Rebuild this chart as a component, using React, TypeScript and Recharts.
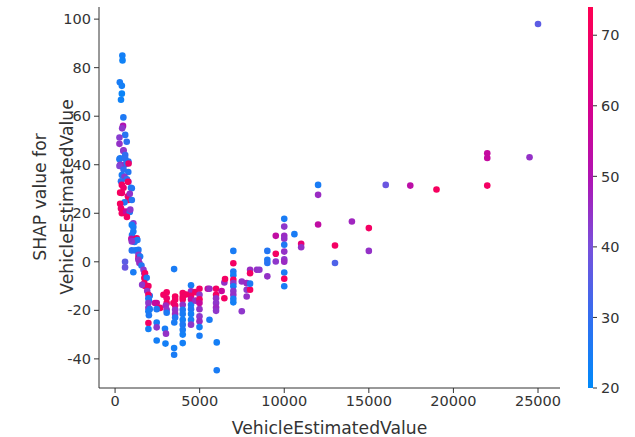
import React from "react";
import { ScatterChart, Scatter, XAxis, YAxis, Label } from "recharts";

// [VehicleEstimatedValue, SHAP value, Age]
type Pt = [number, number, number];

const steepColumn: Pt[] = [
  [430, 85, 24], [440, 83, 23], [280, 74, 25], [400, 72.5, 24], [400, 69.3, 22],
  [350, 66.8, 23], [490, 59.5, 26], [470, 56, 50], [420, 55, 44], [600, 52.3, 28],
  [260, 51.2, 43], [690, 49.5, 29], [260, 48.6, 45], [500, 46, 46], [490, 45.7, 44],
  [600, 44, 30], [260, 42.3, 25], [300, 42.7, 26], [600, 42.5, 29], [790, 41.3, 27],
  [300, 40, 44], [560, 40, 46], [690, 40.5, 28], [800, 40.5, 68], [260, 39.5, 42],
  [500, 38, 30], [780, 37, 27], [400, 35.8, 25], [560, 35, 44], [700, 34, 28],
  [790, 33, 46], [350, 33.2, 29], [760, 33, 70], [400, 31.7, 70], [990, 30.3, 26],
  [940, 30.5, 27], [500, 30.5, 68], [300, 28.5, 72], [400, 28.4, 69], [760, 27, 66],
  [870, 28, 45], [790, 25.5, 70], [990, 25.5, 27], [560, 24.5, 26], [300, 23.9, 71],
  [350, 22, 68], [490, 20.7, 72], [400, 20, 70], [560, 20.3, 68], [660, 20.7, 56],
  [870, 20.5, 27], [900, 21.5, 44], [700, 18.5, 70], [1080, 15.9, 44], [1080, 14.3, 26],
  [990, 15.2, 24], [1080, 12.5, 25], [1000, 11, 26], [960, 9.5, 54], [1280, 9.7, 70],
  [1080, 8.5, 44], [1150, 8.2, 27], [1320, 9, 26], [990, 8.4, 45], [1380, 4.9, 27],
  [1200, 4.7, 25], [990, 4.7, 27], [1380, 2.9, 44], [1380, 1.5, 68], [1480, 2.2, 26],
  [1380, 0.8, 44], [1440, -0.5, 46], [590, 0, 36], [590, -2.3, 38], [1080, -4.3, 25],
  [1560, -1.5, 27], [1680, -3.3, 44], [1730, -4.7, 45], [1770, -4.7, 70], [1730, -6.7, 70],
  [1870, -6.6, 26], [1730, -8.8, 70], [1770, -10, 70], [1600, -9.5, 44],
];

const troughCluster: Pt[] = [
  [1970, -10, 70], [1900, -12, 44], [2050, -14, 27], [1970, -13.6, 70], [1970, -15, 26],
  [2000, -16, 25], [1970, -17, 44], [1970, -19, 45], [2050, -19.5, 26], [1970, -20.4, 25],
  [2000, -22, 26], [1970, -25.2, 70], [1970, -27.7, 24], [2360, -17, 55], [2460, -17, 56],
  [2660, -19, 70], [2860, -13.6, 70], [2460, -19.5, 26], [2460, -25, 25], [2460, -27, 44],
  [2460, -32.4, 24], [2950, -27.6, 25], [3010, -29.6, 45], [2980, -33.7, 24], [3050, -12.6, 70],
  [3050, -15, 68], [3050, -17, 70], [3000, -18, 46], [3050, -19.8, 44], [3050, -21, 26],
  [3450, -17, 70], [3550, -14.3, 71], [3550, -15.6, 70], [3550, -18, 68], [3550, -19.8, 45],
  [3550, -21.5, 46], [3550, -23, 27], [3500, -25, 25], [3490, -3, 25], [3490, -35.5, 24],
  [3490, -38.3, 25], [4000, -12.9, 70], [4000, -14.5, 69], [4000, -15.5, 70], [4000, -17.7, 45],
  [4000, -19.8, 26], [4000, -21.5, 25], [4000, -23.9, 24], [4000, -25.9, 26], [4000, -28, 25],
  [4000, -30, 24], [4000, -33.5, 24], [4490, -9.7, 25], [4490, -12.2, 46], [4490, -14, 70],
  [4490, -15.5, 56], [4490, -17.7, 25], [4490, -19.5, 26], [4490, -21.5, 24], [4490, -23.9, 25],
  [4490, -25.9, 44], [4200, -13.5, 70], [4750, -12.5, 70], [4750, -16, 46], [4990, -11.1, 70],
  [4990, -13.6, 44], [4990, -15.5, 70], [4990, -17, 56], [4990, -19.5, 45], [4990, -22.5, 44],
  [4990, -24.5, 46], [4990, -26.9, 24], [4990, -30.5, 25], [5480, -11.1, 55], [5580, -11.1, 46],
  [5580, -23.9, 25], [5970, -11.1, 70], [5970, -13.6, 70], [5970, -15, 45], [5970, -17, 44],
  [5970, -18.8, 46], [5970, -20.2, 44], [6010, -33.2, 24], [6010, -44.7, 25], [6300, -12, 56],
  [6460, -8.5, 45], [6460, -15, 70], [6500, -7.1, 70],
];

const recoveryRange: Pt[] = [
  [6990, 4.5, 25], [6990, -0.6, 70], [6990, -4, 26], [6990, -5.5, 24], [6990, -7.4, 70],
  [6990, -8.8, 44], [6990, -10.1, 25], [6990, -12, 44], [6990, -13.6, 45], [6990, -15.2, 25],
  [6990, -16.7, 24], [7490, -8.1, 45], [7490, -20.4, 44], [7780, -8.8, 46], [7780, -11.5, 44],
  [7780, -14.3, 45], [7980, -11.5, 70], [7980, -9, 26], [7980, -3.3, 46], [7980, -4.7, 70],
  [8380, -3.3, 45], [8530, -3.3, 44], [9000, 4.5, 27], [9000, 0.8, 26], [9000, -0.5, 28],
  [9000, -6, 45], [9500, 10.7, 54], [9500, 3.3, 70], [9500, 0.1, 44], [10000, 17.7, 25],
  [10000, 14.5, 44], [10000, 10.7, 46], [10000, 9.5, 45], [10000, 7, 26], [10000, 4.2, 45],
  [10000, 1, 44], [10000, 0, 46], [10000, -4.4, 25], [10000, -7, 70], [10000, -10.1, 25],
  [10600, 11.4, 25], [11000, 7.4, 66], [11000, 6, 45], [12000, 31.7, 25], [12000, 27.6, 46],
  [12000, 15.4, 54], [13000, 6.7, 70], [13000, -0.5, 34],
];

const tailPoints: Pt[] = [
  [14000, 16.6, 47], [15000, 13.9, 70], [15000, 4.5, 45], [16000, 31.7, 38],
  [17450, 31.4, 53], [19000, 29.8, 71], [22000, 44.7, 55], [22000, 42.8, 55],
  [22000, 31.4, 70], [24500, 43.1, 45], [25000, 98, 36],
];

const xTicks = [0, 5000, 10000, 15000, 20000, 25000];
const yTicks = [-40, -20, 0, 20, 40, 60, 80, 100];
const ageTicks = [20, 30, 40, 50, 60, 70];
const ageRange = [20, 74];

const points = [...steepColumn, ...troughCluster, ...recoveryRange, ...tailPoints].map(
  ([value, shap, age]) => ({ value, shap, age })
);

// shap red_blue style colormap
const stops: [number, number[]][] = [
  [0, [0, 138, 250]],
  [0.185, [50, 110, 240]],
  [0.37, [120, 80, 220]],
  [0.55, [175, 20, 180]],
  [0.74, [215, 0, 140]],
  [1, [255, 0, 82]],
];

function ageColor(age: number) {
  const t = Math.min(1, Math.max(0, (age - ageRange[0]) / (ageRange[1] - ageRange[0])));
  for (let i = 1; i < stops.length; i++) {
    if (t <= stops[i][0]) {
      const [t0, c0] = stops[i - 1];
      const [t1, c1] = stops[i];
      const f = (t - t0) / (t1 - t0);
      const c = c0.map((v, k) => Math.round(v + (c1[k] - v) * f));
      return `rgb(${c[0]},${c[1]},${c[2]})`;
    }
  }
  return "rgb(255,0,82)";
}

const font = "DejaVu Sans";
const tickStyle = { fontSize: 14.5, fill: "#333", fontFamily: font };

const Dot = (props: any) => (
  <circle cx={props.cx} cy={props.cy} r={3.3} fill={ageColor(props.payload.age)} />
);

const PLOT_TOP = 7;
const PLOT_BOTTOM = 388;

function ColorBar() {
  const x = 588;
  const h = PLOT_BOTTOM - PLOT_TOP;
  const yFor = (a: number) => PLOT_BOTTOM - ((a - ageRange[0]) / (ageRange[1] - ageRange[0])) * h;
  return (
    <svg width={635} height={437} style={{ position: "absolute", left: 0, top: 0 }}>
      <defs>
        <linearGradient id="ageGrad" x1="0" y1="1" x2="0" y2="0">
          {stops.map(([t, c]) => (
            <stop key={t} offset={t} stopColor={`rgb(${c[0]},${c[1]},${c[2]})`} />
          ))}
        </linearGradient>
      </defs>
      <rect x={x} y={PLOT_TOP} width={5} height={h} fill="url(#ageGrad)" />
      {ageTicks.map((a) => (
        <g key={a}>
          <line x1={x + 5} x2={x + 9} y1={yFor(a)} y2={yFor(a)} stroke="#333" />
          <text x={x + 13} y={yFor(a)} dy="0.36em" fontSize={14.5} fill="#333" fontFamily={font}>
            {a}
          </text>
        </g>
      ))}
    </svg>
  );
}

const labelStyle = { fontSize: 17.2, fill: "#333", fontFamily: font };

export default function App() {
  return (
    <div style={{ position: "absolute", left: 0, top: 0, width: 635, height: 437, background: "#fff" }}>
      <ScatterChart width={635} height={437} margin={{ top: PLOT_TOP, right: 75, bottom: 0, left: 0 }}>
        <XAxis
          type="number"
          dataKey="value"
          domain={[-950, 26300]}
          ticks={xTicks}
          allowDataOverflow
          height={49}
          tickSize={5}
          tickMargin={3}
          stroke="#333"
          tick={tickStyle}
        >
          <Label value="VehicleEstimatedValue" position="insideBottom" offset={3} style={labelStyle} />
        </XAxis>
        <YAxis
          type="number"
          dataKey="shap"
          domain={[-52, 105]}
          ticks={yTicks}
          allowDataOverflow
          width={99}
          tickSize={5}
          tickMargin={3}
          stroke="#333"
          tick={tickStyle}
        >
          <Label
            content={() => (
              <g>
                <text transform="translate(46,197) rotate(-90)" textAnchor="middle" style={labelStyle}>
                  SHAP value for
                </text>
                <text transform="translate(73,197) rotate(-90)" textAnchor="middle" style={labelStyle}>
                  VehicleEstimatedValue
                </text>
              </g>
            )}
          />
        </YAxis>
        <Scatter data={points} shape={Dot} isAnimationActive={false} />
      </ScatterChart>
      <ColorBar />
    </div>
  );
}
